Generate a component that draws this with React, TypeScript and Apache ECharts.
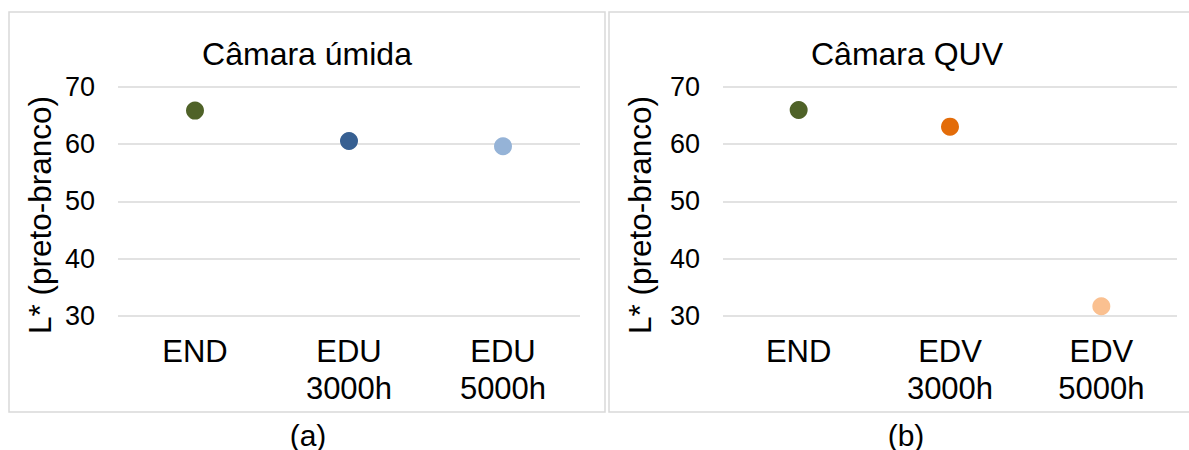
import React, { useEffect, useRef } from "react";
import * as echarts from "echarts";

const categoriesA = ["END", "EDU\n3000h", "EDU\n5000h"];
const valuesA = [65.8, 60.5, 59.6];
const colorsA = ["#4F6228", "#376092", "#95B3D7"];

const categoriesB = ["END", "EDV\n3000h", "EDV\n5000h"];
const valuesB = [65.9, 63.0, 31.7];
const colorsB = ["#4F6228", "#E36C09", "#FAC090"];

const titles = ["Câmara úmida", "Câmara QUV"];
const panelLabels = ["(a)", "(b)"];
const yName = "L* (preto-branco)";
const yMin = 30;
const yMax = 70;
const yInterval = 10;

const FONT = "'Liberation Sans', Arial, sans-serif";

export default function App() {
  const ref = useRef<HTMLDivElement>(null);
  useEffect(() => {
    if (!ref.current) return;
    const chart = echarts.init(ref.current, undefined, { renderer: "svg" });
    const grids = [
      { left: 118, top: 86.5, width: 462, height: 229.5 },
      { left: 723, top: 86.5, width: 454, height: 229.5 },
    ];
    const cats = [categoriesA, categoriesB];
    const vals = [valuesA, valuesB];
    const cols = [colorsA, colorsB];
    const titleX = [302, 902];
    const labelX = [308, 906];
    const nameX = [40, 640];

    chart.setOption({
      animation: false,
      backgroundColor: "#ffffff",
      textStyle: { fontFamily: FONT },
      title: titles.map((t, i) => ({
        text: t,
        left: titleX[i],
        top: 33,
        textAlign: "center",
        textStyle: { fontSize: 32, fontWeight: "normal", color: "#000", fontFamily: FONT },
      })),
      grid: grids,
      xAxis: cats.map((c, i) => ({
        type: "category",
        gridIndex: i,
        data: c,
        axisLine: { show: false },
        axisTick: { show: false },
        splitLine: { show: false },
        axisLabel: {
          color: "#000",
          fontSize: 31,
          lineHeight: 37,
          margin: 17,
          fontFamily: FONT,
          interval: 0,
        },
      })),
      yAxis: cats.map((_, i) => ({
        type: "value",
        gridIndex: i,
        min: yMin,
        max: yMax,
        interval: yInterval,
        axisLine: { show: false },
        axisTick: { show: false },
        splitLine: { show: true, lineStyle: { color: "#d9d9d9", width: 1.5 } },
        axisLabel: { color: "#000", fontSize: 27, margin: 23, fontFamily: FONT },
      })),
      series: vals.map((v, i) => ({
        type: "scatter",
        xAxisIndex: i,
        yAxisIndex: i,
        symbol: "circle",
        symbolSize: 18,
        data: v.map((y, j) => ({ value: y, itemStyle: { color: cols[i][j], opacity: 1 } })),
      })),
      graphic: [
        {
          type: "rect",
          shape: { x: 9, y: 12, width: 596, height: 400 },
          style: { fill: "none", stroke: "#d9d9d9", lineWidth: 1.5 },
          silent: true,
        },
        {
          type: "rect",
          shape: { x: 609, y: 12, width: 600, height: 400 },
          style: { fill: "none", stroke: "#d9d9d9", lineWidth: 1.5 },
          silent: true,
        },
        ...nameX.map((x) => ({
          type: "text",
          x,
          y: 215,
          rotation: Math.PI / 2,
          style: {
            text: yName,
            fontSize: 31.5,
            fontFamily: FONT,
            fill: "#000",
            align: "center",
            verticalAlign: "middle",
          },
        })),
        ...panelLabels.map((t, i) => ({
          type: "text",
          x: labelX[i],
          y: 435,
          style: {
            text: t,
            fontSize: 30,
            fontFamily: FONT,
            fill: "#000",
            align: "center",
            verticalAlign: "middle",
          },
        })),
      ],
    });
    return () => chart.dispose();
  }, []);
  return (
    <div
      ref={ref}
      style={{ position: "fixed", left: 0, top: 0, width: 1189, height: 450 }}
    />
  );
}
